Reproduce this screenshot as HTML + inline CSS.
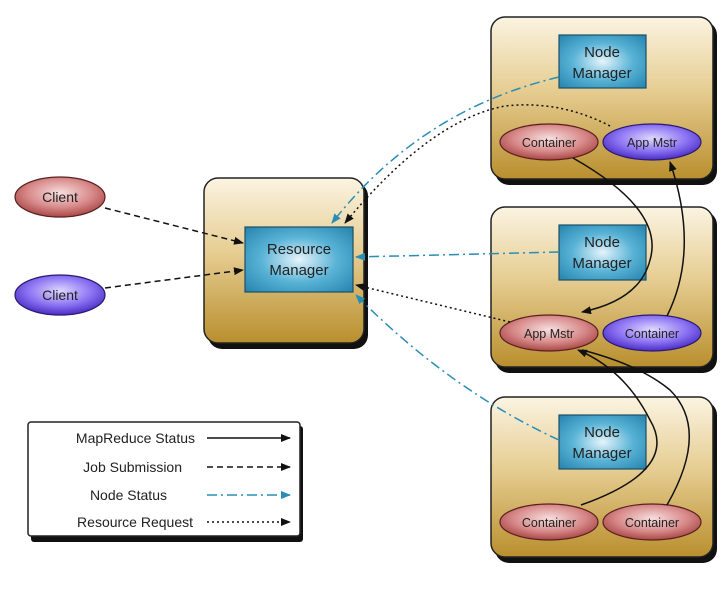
<!DOCTYPE html>
<html><head><meta charset="utf-8"><style>
html,body{margin:0;padding:0;background:#fff;}
svg{display:block;font-family:"Liberation Sans",sans-serif;}
</style></head><body>
<svg width="724" height="589" viewBox="0 0 724 589">
<defs>
<linearGradient id="gold" x1="0" y1="0" x2="0" y2="1">
<stop offset="0" stop-color="#fbf4e2"/><stop offset="0.45" stop-color="#e6cd92"/><stop offset="1" stop-color="#b98f2e"/>
</linearGradient>
<radialGradient id="blue" cx="0.5" cy="0.5" r="0.7">
<stop offset="0" stop-color="#e6f4fb"/><stop offset="0.5" stop-color="#59b3d6"/><stop offset="1" stop-color="#2583ad"/>
</radialGradient>
<radialGradient id="red" cx="0.5" cy="0.4" r="0.6">
<stop offset="0" stop-color="#f7dede"/><stop offset="0.6" stop-color="#d88a8a"/><stop offset="1" stop-color="#a94747"/>
</radialGradient>
<radialGradient id="purp" cx="0.5" cy="0.4" r="0.6">
<stop offset="0" stop-color="#ded8ff"/><stop offset="0.6" stop-color="#8a72f2"/><stop offset="1" stop-color="#4b2cc4"/>
</radialGradient>
<marker id="ak" markerWidth="10" markerHeight="8" refX="9" refY="4" orient="auto" markerUnits="userSpaceOnUse"><path d="M0,0 L10,4 L0,8 Z" fill="#111"/></marker>
<marker id="ab" markerWidth="10" markerHeight="8" refX="9" refY="4" orient="auto" markerUnits="userSpaceOnUse"><path d="M0,0 L10,4 L0,8 Z" fill="#2a8db4"/></marker>
</defs>

<!-- outer boxes with shadows -->
<g>
<rect x="208" y="182" width="160" height="167" rx="14" fill="#111"/>
<rect x="204" y="178" width="160" height="165" rx="14" fill="url(#gold)" stroke="#222" stroke-width="1.5"/>
<rect x="495" y="21" width="222" height="164" rx="14" fill="#111"/>
<rect x="491" y="17" width="222" height="162" rx="14" fill="url(#gold)" stroke="#222" stroke-width="1.5"/>
<rect x="495" y="211" width="222" height="162" rx="14" fill="#111"/>
<rect x="491" y="207" width="222" height="160" rx="14" fill="url(#gold)" stroke="#222" stroke-width="1.5"/>
<rect x="495" y="401" width="222" height="162" rx="14" fill="#111"/>
<rect x="491" y="397" width="222" height="160" rx="14" fill="url(#gold)" stroke="#222" stroke-width="1.5"/>
<rect x="31" y="426" width="272" height="116" rx="3" fill="#111"/>
<rect x="28" y="422" width="272" height="114" rx="3" fill="#fff" stroke="#222" stroke-width="1.5"/>
</g>

<!-- inner manager boxes -->
<rect x="245" y="227" width="108" height="65" fill="url(#blue)" stroke="#1d4f66" stroke-width="1.2"/>
<text x="299" y="254" font-size="15" text-anchor="middle" fill="#222">Resource</text>
<text x="299" y="275" font-size="15" text-anchor="middle" fill="#222">Manager</text>
<g font-size="15" text-anchor="middle" fill="#222">
<rect x="559" y="35" width="87" height="53" fill="url(#blue)" stroke="#1d4f66" stroke-width="1.2"/>
<text x="602" y="57">Node</text><text x="602" y="78">Manager</text>
<rect x="559" y="225" width="87" height="55" fill="url(#blue)" stroke="#1d4f66" stroke-width="1.2"/>
<text x="602" y="247">Node</text><text x="602" y="268">Manager</text>
<rect x="559" y="415" width="87" height="54" fill="url(#blue)" stroke="#1d4f66" stroke-width="1.2"/>
<text x="602" y="437">Node</text><text x="602" y="458">Manager</text>
</g>

<!-- ellipses -->
<g font-size="12.5" text-anchor="middle" fill="#222" stroke-width="1.2">
<ellipse cx="60" cy="197" rx="45" ry="20" fill="url(#red)" stroke="#5a2020"/>
<text x="60" y="202" font-size="14">Client</text>
<ellipse cx="60" cy="295" rx="45" ry="20" fill="url(#purp)" stroke="#2a1a70"/>
<text x="60" y="300" font-size="14">Client</text>
<ellipse cx="549" cy="142" rx="49" ry="18" fill="url(#red)" stroke="#5a2020"/>
<text x="549" y="147">Container</text>
<ellipse cx="652" cy="142" rx="49" ry="18" fill="url(#purp)" stroke="#2a1a70"/>
<text x="652" y="147">App Mstr</text>
<ellipse cx="549" cy="333" rx="49" ry="18" fill="url(#red)" stroke="#5a2020"/>
<text x="549" y="338">App Mstr</text>
<ellipse cx="652" cy="333" rx="49" ry="18" fill="url(#purp)" stroke="#2a1a70"/>
<text x="652" y="338">Container</text>
<ellipse cx="549" cy="522" rx="49" ry="18" fill="url(#red)" stroke="#5a2020"/>
<text x="549" y="527">Container</text>
<ellipse cx="652" cy="522" rx="49" ry="18" fill="url(#red)" stroke="#5a2020"/>
<text x="652" y="527">Container</text>
</g>

<!-- connectors -->
<g fill="none" stroke-width="1.5">
<!-- job submission -->
<path d="M105,208 L243,243" stroke="#111" stroke-dasharray="6,4" marker-end="url(#ak)"/>
<path d="M105,288 L243,270" stroke="#111" stroke-dasharray="6,4" marker-end="url(#ak)"/>
<!-- node status -->
<path d="M559,77 Q420,110 332,223" stroke="#2a8db4" stroke-dasharray="10,4,2,4" marker-end="url(#ab)"/>
<path d="M559,252 L356,257" stroke="#2a8db4" stroke-dasharray="10,4,2,4" marker-end="url(#ab)"/>
<path d="M559,440 Q450,390 356,295" stroke="#2a8db4" stroke-dasharray="10,4,2,4" marker-end="url(#ab)"/>
<!-- resource request -->
<path d="M610,126 Q560,100 505,106 Q430,120 345,223" stroke="#111" stroke-dasharray="2,3" marker-end="url(#ak)"/>
<path d="M510,322 L356,285" stroke="#111" stroke-dasharray="2,3" marker-end="url(#ak)"/>
<!-- mapreduce status -->
<path d="M573,158 Q665,210 650,260 Q640,300 582,312" stroke="#111" marker-end="url(#ak)"/>
<path d="M667,316 Q700,250 670,162" stroke="#111" marker-end="url(#ak)"/>
<path d="M581,505 Q680,470 650,420 Q625,370 578,350" stroke="#111" marker-end="url(#ak)"/>
<path d="M667,505 Q710,430 670,390 Q640,365 582,350" stroke="#111"/>
</g>

<!-- legend -->
<g font-size="14" fill="#222" text-anchor="end">
<text x="195" y="443">MapReduce Status</text>
<text x="182" y="472">Job Submission</text>
<text x="167" y="500">Node Status</text>
<text x="193" y="527">Resource Request</text>
</g>
<g fill="none" stroke-width="1.5">
<path d="M207,438 L290,438" stroke="#111" marker-end="url(#ak)"/>
<path d="M207,467 L290,467" stroke="#111" stroke-dasharray="6,4" marker-end="url(#ak)"/>
<path d="M207,495 L290,495" stroke="#2a8db4" stroke-dasharray="10,4,2,4" marker-end="url(#ab)"/>
<path d="M207,522 L290,522" stroke="#111" stroke-dasharray="2,3" marker-end="url(#ak)"/>
</g>
</svg>
</body></html>
